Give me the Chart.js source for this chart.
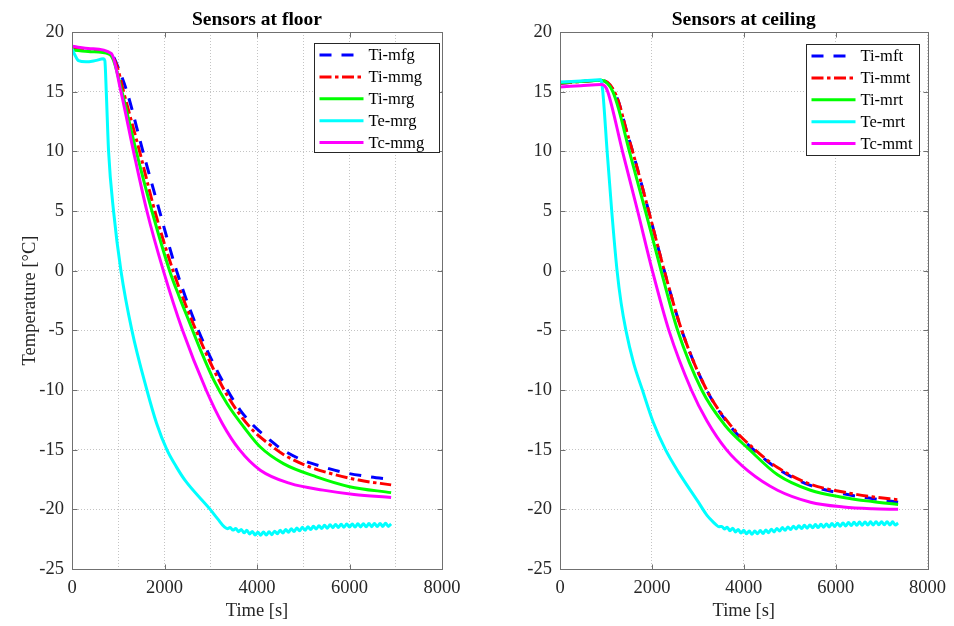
<!DOCTYPE html>
<html>
<head>
<meta charset="utf-8">
<title>Sensors at floor / ceiling</title>
<script src="https://cdn.jsdelivr.net/npm/chart.js@4.4.1/dist/chart.umd.min.js"></script>
<style>
  html, body { margin: 0; padding: 0; background: #fff; }
  #wrap { position: relative; width: 954px; height: 626px; overflow: hidden; }
  canvas { position: absolute; top: 0; }
  #floorChart { left: 0; }
  #ceilChart { left: 480px; }
</style>
</head>
<body>
<div id="wrap">
  <canvas id="floorChart" width="475" height="626"></canvas>
  <canvas id="ceilChart" width="474" height="626"></canvas>
</div>
<script>
// ---- Sensors at floor (time in s, temperature in °C) ----
const floorTiMfgTime = [0, 400, 800, 900, 1000, 1188, 1533, 1892, 2260, 2730, 3360, 3643, 3929, 4250, 4550, 5000, 5429, 5857, 6400, 6900];
const floorTiMfg = [18.7, 18.5, 18.25, 17.9, 17.0, 15.0, 10.0, 5.0, 0.0, -5.0, -10.0, -11.72, -13.0, -14.1, -15.0, -15.9, -16.44, -16.9, -17.25, -17.5];

const floorTiMmgTime = [0, 400, 800, 900, 1000, 1115, 1461, 1790, 2185, 2680, 3290, 3600, 3929, 4250, 4571, 5071, 5643, 6200, 6900];
const floorTiMmg = [18.7, 18.5, 18.2, 17.8, 16.8, 15.0, 10.0, 5.0, 0.0, -5.0, -10.0, -11.9, -13.45, -14.5, -15.4, -16.35, -17.05, -17.55, -17.95];

const floorTiMrgTime = [0, 400, 800, 900, 1080, 1389, 1728, 2110, 2320, 2500, 2786, 3071, 3357, 3714, 4071, 4571, 5286, 6000, 6900];
const floorTiMrg = [18.5, 18.35, 18.15, 17.6, 15.0, 10.0, 5.0, 0.0, -2.2, -3.94, -6.72, -9.22, -11.17, -13.1, -14.78, -16.17, -17.28, -18.1, -18.6];

const floorTeMrgTime = [0, 60, 140, 300, 500, 680, 710, 741, 791, 898, 1058, 1295, 1619, 1830, 2051, 2250, 2450, 2987, 3150,
  3300, 3360, 3420, 3480, 3540, 3600, 3660, 3720, 3780, 3840, 3900, 3960, 4020, 4080, 4140, 4200, 4260, 4320, 4380, 4440,
  4500, 4560, 4620, 4680, 4740, 4800, 4860, 4920, 4980, 5040, 5100, 5160, 5220, 5280, 5340, 5400, 5460, 5520, 5580, 5640,
  5700, 5760, 5820, 5880, 5940, 6000, 6060, 6120, 6180, 6240, 6300, 6360, 6420, 6480, 6540, 6600, 6660, 6720, 6780, 6840, 6900];
const floorTeMrg = [18.6, 18.1, 17.6, 17.5, 17.6, 17.75, 17.6, 15.0, 10.0, 5.0, 0.0, -5.0, -10.0, -12.8, -15.0, -16.4, -17.6, -20.0, -20.8,
  -21.50, -21.62, -21.53, -21.74, -21.60, -21.87, -21.68, -21.97, -21.76, -22.06,
  -21.85, -22.15, -21.92, -22.17, -21.90, -22.15, -21.88, -22.12, -21.83, -22.05,
  -21.76, -21.98, -21.69, -21.92, -21.63, -21.86, -21.57, -21.80, -21.51, -21.75,
  -21.46, -21.70, -21.42, -21.65, -21.37, -21.61, -21.33, -21.58, -21.30, -21.54,
  -21.27, -21.52, -21.25, -21.50, -21.23, -21.49, -21.22, -21.48, -21.21, -21.47,
  -21.20, -21.46, -21.19, -21.45, -21.18, -21.44, -21.18, -21.43, -21.17, -21.43,
  -21.22];

const floorTcMmgTime = [0, 400, 850, 1058, 1330, 1619, 1975, 2390, 2900, 3250, 3620, 4071, 4714, 5429, 6100, 6900];
const floorTcMmg = [18.8, 18.6, 18.2, 15.0, 10.0, 5.0, 0.0, -5.0, -10.0, -12.8, -15.0, -16.72, -17.83, -18.39, -18.75, -19.0];

// ---- Sensors at ceiling ----
const ceilTiMftTime = [0, 450, 900, 1030, 1150, 1280, 1435, 1580, 1930, 2270, 2650, 3193, 3700, 4304, 4736, 5453, 6170, 6800, 7360];
const ceilTiMft = [15.7, 15.85, 15.95, 15.75, 15.2, 14.1, 11.9, 10.0, 5.0, 0.0, -5.0, -10.0, -13.0, -15.3, -16.6, -18.0, -18.7, -19.1, -19.4];

const ceilTiMmtTime = [0, 450, 900, 1030, 1150, 1280, 1435, 1580, 1930, 2270, 2650, 3193, 3700, 4304, 4736, 5453, 6170, 6800, 7360];
const ceilTiMmt = [15.7, 15.85, 15.95, 15.8, 15.25, 14.1, 11.9, 10.0, 5.0, 0.0, -5.0, -10.0, -12.9, -15.2, -16.5, -17.9, -18.55, -18.95, -19.2];

const ceilTiMrtTime = [0, 450, 900, 1030, 1150, 1280, 1510, 1860, 2200, 2560, 3085, 3600, 4125, 4736, 5453, 6170, 6800, 7360];
const ceilTiMrt = [15.75, 15.85, 15.95, 15.7, 15.0, 13.5, 10.0, 5.0, 0.0, -5.0, -10.0, -13.0, -15.0, -17.1, -18.4, -19.0, -19.35, -19.6];

const ceilTeMrtTime = [0, 450, 880, 905, 932, 1026, 1126, 1242, 1330, 1435, 1600, 1794, 2030, 2296, 2583, 3013, 3200, 3372,
  3400, 3460, 3520, 3580, 3640, 3700, 3760, 3820, 3880, 3940, 4000, 4060, 4120, 4180, 4240, 4300, 4360, 4420, 4480, 4540,
  4600, 4660, 4720, 4780, 4840, 4900, 4960, 5020, 5080, 5140, 5200, 5260, 5320, 5380, 5440, 5500, 5560, 5620, 5680, 5740,
  5800, 5860, 5920, 5980, 6040, 6100, 6160, 6220, 6280, 6340, 6400, 6460, 6520, 6580, 6640, 6700, 6760, 6820, 6880, 6940,
  7000, 7060, 7120, 7180, 7240, 7300, 7360];
const ceilTeMrt = [15.8, 15.9, 16.0, 15.8, 15.0, 10.0, 5.0, 0.0, -2.7, -5.0, -7.7, -10.0, -12.7, -15.0, -16.9, -19.4, -20.5, -21.2,
  -21.30, -21.46, -21.43, -21.65, -21.50, -21.79, -21.58, -21.89, -21.68, -21.99,
  -21.76, -22.05, -21.82, -22.09, -21.81, -22.05, -21.77, -22.02, -21.73, -21.96,
  -21.66, -21.89, -21.60, -21.82, -21.53, -21.76, -21.47, -21.70, -21.41, -21.64,
  -21.37, -21.61, -21.34, -21.58, -21.31, -21.55, -21.28, -21.53, -21.25, -21.50,
  -21.22, -21.47, -21.19, -21.44, -21.16, -21.41, -21.14, -21.39, -21.11, -21.36,
  -21.09, -21.34, -21.07, -21.33, -21.06, -21.32, -21.05, -21.31, -21.04, -21.30,
  -21.04, -21.30, -21.04, -21.31, -21.05, -21.31, -21.15];

const ceilTcMmtTime = [0, 450, 900, 980, 1040, 1360, 1690, 2010, 2370, 2860, 3200, 3622, 4100, 4736, 5453, 6170, 6800, 7360];
const ceilTcMmt = [15.4, 15.5, 15.6, 15.45, 15.0, 10.0, 5.0, 0.0, -5.0, -10.0, -12.6, -15.0, -16.8, -18.4, -19.4, -19.8, -19.95, -20.0];

// axis ticks
const yTicks = [-25, -20, -15, -10, -5, 0, 5, 10, 15, 20];
const xLabelStep = 2000;

const FONT = '"Liberation Serif", "Times New Roman", serif';
const TEXT = '#262626';

// join time + value arrays into points
function pts(times, values) {
    return times.map((t, i) => ({ x: t, y: values[i] }));
}

function line(label, times, values, color, dash) {
    return {
        label: label,
        data: pts(times, values),
        borderColor: color,
        backgroundColor: color,
        borderWidth: 3,
        borderDash: dash || [],
        pointRadius: 0,
        cubicInterpolationMode: 'monotone',
        fill: false
    };
}

// box, inner tick marks, title and legend in MATLAB look
const matlabFrame = {
    id: 'matlabFrame',
    afterDraw(chart, args, opts) {
        const ctx = chart.ctx;
        const a = chart.chartArea;
        const xs = chart.scales.x;
        const ys = chart.scales.y;
        ctx.save();

        // axes box
        ctx.setLineDash([]);
        ctx.strokeStyle = '#707070';
        ctx.lineWidth = 1;
        const L = Math.round(a.left) + 0.5, R = Math.round(a.right) + 0.5;
        const T = Math.round(a.top) + 0.5, B = Math.round(a.bottom) + 0.5;
        ctx.strokeRect(L, T, R - L, B - T);

        // tick marks pointing in
        ctx.beginPath();
        xs.ticks.forEach(t => {
            if (t.value % xLabelStep !== 0) return;
            const px = Math.round(xs.getPixelForValue(t.value)) + 0.5;
            ctx.moveTo(px, B); ctx.lineTo(px, B - 5);
            ctx.moveTo(px, T); ctx.lineTo(px, T + 5);
        });
        yTicks.forEach(v => {
            const py = Math.round(ys.getPixelForValue(v)) + 0.5;
            ctx.moveTo(L, py); ctx.lineTo(L + 5, py);
            ctx.moveTo(R, py); ctx.lineTo(R - 5, py);
        });
        ctx.stroke();

        // title
        ctx.fillStyle = '#000';
        ctx.font = 'bold 19.5px ' + FONT;
        ctx.textAlign = 'center';
        ctx.textBaseline = 'alphabetic';
        ctx.fillText(opts.title, (a.left + a.right) / 2, 25);

        // legend
        const lg = opts.legend;
        const x0 = Math.round(a.left + lg.dx) + 0.5;
        const y0 = Math.round(a.top + lg.dy) + 0.5;
        ctx.fillStyle = '#fff';
        ctx.fillRect(x0, y0, lg.w, lg.h);
        ctx.strokeStyle = '#262626';
        ctx.lineWidth = 1;
        ctx.strokeRect(x0, y0, lg.w, lg.h);
        ctx.font = '16.5px ' + FONT;
        ctx.textAlign = 'left';
        ctx.textBaseline = 'middle';
        chart.data.datasets.forEach((ds, i) => {
            const y = y0 + 11.5 + i * 21.9;
            ctx.strokeStyle = ds.borderColor;
            ctx.lineWidth = ds.borderWidth;
            ctx.setLineDash(ds.borderDash);
            ctx.beginPath();
            ctx.moveTo(x0 + 5, y);
            ctx.lineTo(x0 + 49, y);
            ctx.stroke();
            ctx.setLineDash([]);
            ctx.fillStyle = '#000';
            ctx.fillText(ds.label, x0 + 54, y + 1);
        });

        ctx.restore();
    }
};

function makeChart(canvasId, datasets, cfg) {
    // last series drawn on top, like MATLAB
    datasets.forEach((ds, i) => { ds.order = datasets.length - i; });

    return new Chart(document.getElementById(canvasId), {
        type: 'line',
        data: { datasets: datasets },
        plugins: [matlabFrame],
        options: {
            responsive: false,
            animation: false,
            events: [],
            layout: { padding: { left: 0, top: 32, right: cfg.padRight, bottom: 0 } },
            plugins: {
                legend: { display: false },
                title: { display: false },
                tooltip: { enabled: false },
                matlabFrame: { title: cfg.title, legend: cfg.legend }
            },
            scales: {
                x: {
                    type: 'linear',
                    min: 0,
                    max: 8000,
                    afterFit: s => { s.height = 57; },
                    ticks: {
                        stepSize: cfg.xGridStep,
                        autoSkip: false,
                        maxRotation: 0,
                        padding: 8,
                        color: TEXT,
                        font: { family: FONT, size: 18.5 },
                        callback: v => (v % xLabelStep === 0 ? String(v) : '')
                    },
                    grid: { color: '#c4c4c4', lineWidth: 1, drawTicks: false },
                    border: { display: false, dash: [1, 2] },
                    title: {
                        display: true,
                        text: 'Time [s]',
                        color: TEXT,
                        font: { family: FONT, size: 18.5 },
                        padding: { top: 0, bottom: 4 }
                    }
                },
                y: {
                    type: 'linear',
                    min: -25,
                    max: 20,
                    afterFit: s => { s.width = cfg.yWidth; },
                    afterBuildTicks: s => { s.ticks = yTicks.map(v => ({ value: v })); },
                    ticks: {
                        padding: 8,
                        color: TEXT,
                        font: { family: FONT, size: 18.5 },
                        callback: v => String(v)
                    },
                    grid: { color: '#c4c4c4', lineWidth: 1, drawTicks: false },
                    border: { display: false, dash: [1, 2] },
                    title: {
                        display: cfg.yTitle,
                        text: 'Temperature [°C]',
                        color: TEXT,
                        font: { family: FONT, size: 18.5 },
                        padding: { top: 19, bottom: 0 }
                    }
                }
            }
        }
    });
}

makeChart('floorChart', [
    line('Ti-mfg', floorTiMfgTime, floorTiMfg, '#0000ff', [12, 10]),
    line('Ti-mmg', floorTiMmgTime, floorTiMmg, '#ff0000', [12, 3.5, 3.5, 3.5]),
    line('Ti-mrg', floorTiMrgTime, floorTiMrg, '#00ff00'),
    line('Te-mrg', floorTeMrgTime, floorTeMrg, '#00ffff'),
    line('Tc-mmg', floorTcMmgTime, floorTcMmg, '#ff00ff')
], {
    title: 'Sensors at floor',
    padRight: 33,
    yWidth: 72,
    yTitle: true,
    xGridStep: 1000,
    legend: { dx: 242, dy: 10.5, w: 125, h: 109 }
});

makeChart('ceilChart', [
    line('Ti-mft', ceilTiMftTime, ceilTiMft, '#0000ff', [12, 10]),
    line('Ti-mmt', ceilTiMmtTime, ceilTiMmt, '#ff0000', [12, 3.5, 3.5, 3.5]),
    line('Ti-mrt', ceilTiMrtTime, ceilTiMrt, '#00ff00'),
    line('Te-mrt', ceilTeMrtTime, ceilTeMrt, '#00ffff'),
    line('Tc-mmt', ceilTcMmtTime, ceilTcMmt, '#ff00ff')
], {
    title: 'Sensors at ceiling',
    padRight: 22,
    yWidth: 80,
    yTitle: false,
    xGridStep: 2000,
    legend: { dx: 246, dy: 11.5, w: 113, h: 111 }
});
</script>
</body>
</html>
